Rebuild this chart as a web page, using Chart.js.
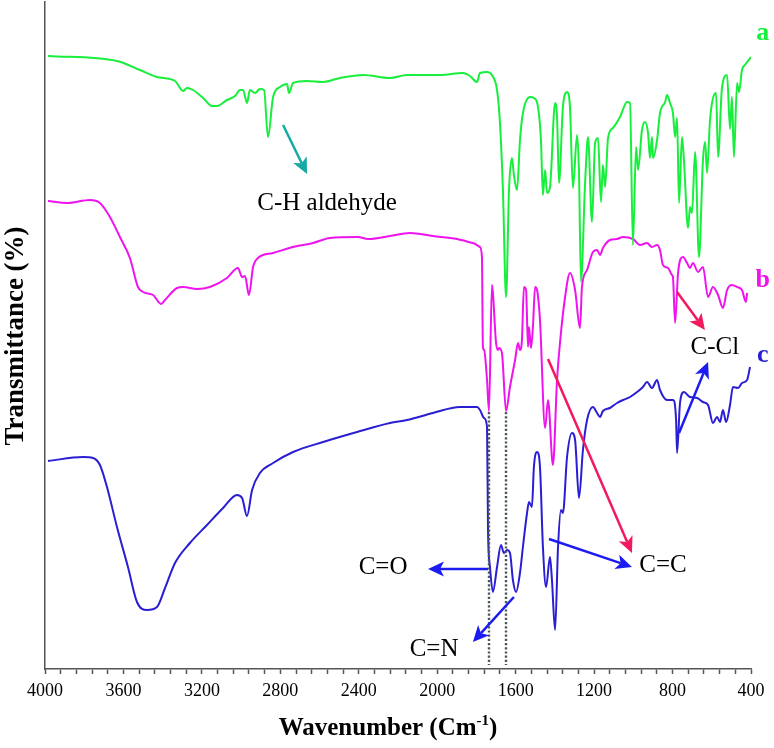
<!DOCTYPE html>
<html>
<head>
<meta charset="utf-8">
<script src="https://cdn.jsdelivr.net/npm/chart.js@4.4.1/dist/chart.umd.min.js"></script>
<style>
  html, body { margin: 0; padding: 0; background: #ffffff; }
  #wrap { width: 774px; height: 748px; }
</style>
</head>
<body>
<div id="wrap"><canvas id="irChart" width="774" height="748"></canvas></div>
<script>
// wavenumber (cm-1) / transmittance (offset, arbitrary units)
var wnA = [3985,3633,3516,3429,3337,3296,3276,3245,3194,3148,3123,3072,3031,3006,2990,2970,2955,2929,2904,2883,
           2863,2837,2802,2766,2756,2735,2664,2582,2496,2378,2241,2154,1986,1869,1833,1797,1782,1746,1721,1695,
           1680,1665,1649,1634,1619,1609,1593,1578,1563,1527,1507,1486,1471,1461,1450,1440,1425,1399,1389,1379,
           1359,1338,1323,1308,1287,1277,1267,1246,1231,1211,1195,1180,1165,1155,1144,1129,1104,1068,1032,1017,
           1002,986,976,956,941,925,915,905,900,879,864,838,828,813,798,787,777,767,752,742,
           721,711,701,685,665,645,634,624,609,578,568,548,522,507,497,487,471,461,446,431,400];
var tA  = [613,608,599,592,588,578,581,579,571,563,563,569,573,579,579,566,579,576,580,579,
           532,572,582,585,576,586,588,587,591,594,591,594,594,596,593,587,596,597,594,579,
           546,479,372,479,511,494,479,529,556,572,571,562,529,474,499,476,482,566,552,486,
           562,577,562,481,534,496,387,486,532,447,526,531,467,504,482,531,541,552,567,566,
           424,522,499,539,547,536,511,532,511,529,556,567,574,566,556,532,551,466,532,509,
           441,462,456,517,412,509,527,496,549,576,512,581,594,540,572,512,586,577,599,604,612];

var wnB = [3985,3888,3771,3720,3669,3618,3567,3526,3500,3449,3408,3388,3327,3296,3225,3159,3072,3016,2995,2980,
           2960,2939,2914,2837,2735,2633,2547,2404,2353,2241,2139,2022,1899,1818,1782,1772,1767,1761,1746,1736,
           1721,1716,1700,1690,1685,1670,1649,1629,1603,1588,1578,1568,1558,1547,1537,1532,1522,1512,1501,1491,
           1476,1450,1435,1410,1389,1374,1348,1323,1297,1272,1262,1236,1206,1185,1170,1155,1119,1083,1053,1002,
           966,930,905,879,864,849,823,803,798,787,772,747,726,711,696,670,645,619,594,568,
           543,522,497,471,446,426,420];
var tB  = [468,466,469,466,452,432,411,382,377,374,365,369,381,382,380,382,391,401,392,393,
           374,402,411,416,422,426,431,432,430,433,436,433,430,426,422,412,322,319,289,258,
           384,376,326,319,321,316,258,282,309,326,319,329,382,379,322,342,321,342,382,379,
           349,241,269,204,289,326,372,396,379,341,382,399,417,419,414,421,429,430,432,430,
           424,426,422,424,419,404,401,394,392,346,396,412,406,401,406,397,402,372,382,374,
           361,379,384,382,379,367,376];

var wnC = [3985,3806,3755,3720,3684,3633,3577,3531,3480,3429,3388,3337,3261,3174,3092,3021,2995,2970,2944,2904,
           2837,2735,2582,2409,2241,2154,2022,1884,1833,1797,1782,1761,1746,1741,1731,1716,1695,1675,1660,1644,
           1629,1614,1598,1578,1563,1542,1532,1517,1507,1491,1476,1461,1445,1425,1415,1399,1384,1369,1359,1338,
           1313,1297,1277,1257,1236,1206,1185,1170,1155,1119,1083,1053,1017,981,951,930,905,879,864,828,
           798,782,777,762,742,711,675,645,619,594,573,558,543,527,507,492,466,446,420,405];
var tC  = [208,212,211,204,182,142,102,67,59,62,81,106,126,144,161,174,171,153,179,196,
           206,217,227,237,246,249,256,262,262,262,259,251,242,139,102,77,102,124,116,119,
           116,89,77,96,122,156,167,162,202,217,202,122,82,112,89,39,122,159,156,212,
           236,229,171,219,249,262,256,252,258,261,266,269,272,277,282,287,281,289,279,269,
           269,249,216,266,277,272,271,267,264,246,252,247,259,247,264,282,281,286,289,302];

var seriesNames = ['a', 'b', 'c'];
var seriesColors = ['#18ee3c', '#ee14ee', '#2a1ed2'];

// x axis: 4000 -> 400, labels every 400, small ticks every 80
var xMin = 400, xMax = 4000, xLabelStep = 400, xTickStep = 80;

// 주석 (arrows and labels), in data coordinates
var arrowList = [
    { from: [2786, 544], to: [2664, 495], color: '#17aaa3' },
    { from: [777, 377],  to: [635, 339],  color: '#f2195f' },
    { from: [767, 236],  to: [619, 307],  color: '#1c1cf0' },
    { from: [1435, 310], to: [1007, 116], color: '#f2195f' },
    { from: [1430, 130], to: [1007, 102], color: '#1c1cf0' },
    { from: [1741, 100], to: [2047, 100], color: '#1c1cf0' },
    { from: [1609, 72],  to: [1818, 27],  color: '#1c1cf0' }
];
var noteList = [
    { text: 'C-H aldehyde', at: [2562, 466] },
    { text: 'C-Cl', at: [584, 322] },
    { text: 'C=C',  at: [849, 104] },
    { text: 'C=O',  at: [2276, 102] },
    { text: 'C=N',  at: [2016, 20] }
];
var curveTagPos = [[340, 636], [340, 389], [340, 314]];
var dottedLines = [1736, 1649];

function toPoints(xs, ys){
    var pts = [];
    for (var i = 0; i < xs.length; i++) {
        pts.push({ x: xs[i], y: ys[i] });
    }
    return pts;
}

function drawArrow(ctx, x0, y0, x1, y1, color){
    var ang = Math.atan2(y1 - y0, x1 - x0);
    var headLen = 16, headW = 7.5, notch = 4;
    var bx = x1 - Math.cos(ang) * (headLen - notch);
    var by = y1 - Math.sin(ang) * (headLen - notch);
    ctx.strokeStyle = color;
    ctx.fillStyle = color;
    ctx.lineWidth = 2.5;
    ctx.setLineDash([]);
    ctx.beginPath();
    ctx.moveTo(x0, y0);
    ctx.lineTo(bx, by);
    ctx.stroke();
    // 화살촉
    var cx = x1 - Math.cos(ang) * headLen;
    var cy = y1 - Math.sin(ang) * headLen;
    ctx.beginPath();
    ctx.moveTo(x1, y1);
    ctx.lineTo(cx + Math.cos(ang + Math.PI / 2) * headW, cy + Math.sin(ang + Math.PI / 2) * headW);
    ctx.lineTo(bx, by);
    ctx.lineTo(cx - Math.cos(ang + Math.PI / 2) * headW, cy - Math.sin(ang + Math.PI / 2) * headW);
    ctx.closePath();
    ctx.fill();
}

var annotatePlugin = {
    id: 'annotate',
    afterDatasetsDraw: function(chart){
        var ctx = chart.ctx;
        var xs = chart.scales.x, ys = chart.scales.y;
        ctx.save();

        // 점선
        ctx.strokeStyle = '#4a5858';
        ctx.lineWidth = 2.4;
        ctx.setLineDash([2.2, 2]);
        for (var i = 0; i < dottedLines.length; i++) {
            var px = Math.round(xs.getPixelForValue(dottedLines[i]));
            ctx.beginPath();
            ctx.moveTo(px, ys.getPixelForValue(257));
            ctx.lineTo(px, ys.getPixelForValue(4));
            ctx.stroke();
        }

        for (var j = 0; j < arrowList.length; j++) {
            var a = arrowList[j];
            drawArrow(ctx,
                xs.getPixelForValue(a.from[0]), ys.getPixelForValue(a.from[1]),
                xs.getPixelForValue(a.to[0]), ys.getPixelForValue(a.to[1]), a.color);
        }

        ctx.fillStyle = '#000000';
        ctx.font = '25px "Liberation Serif"';
        ctx.textAlign = 'center';
        ctx.textBaseline = 'middle';
        for (var k = 0; k < noteList.length; k++) {
            var n = noteList[k];
            ctx.fillText(n.text, xs.getPixelForValue(n.at[0]), ys.getPixelForValue(n.at[1]));
        }

        ctx.font = 'bold 26px "Liberation Serif"';
        for (var m = 0; m < seriesNames.length; m++) {
            ctx.fillStyle = seriesColors[m];
            ctx.fillText(seriesNames[m], xs.getPixelForValue(curveTagPos[m][0]), ys.getPixelForValue(curveTagPos[m][1]));
        }

        // x축 제목 (위첨자 포함)
        ctx.fillStyle = '#000000';
        ctx.textBaseline = 'alphabetic';
        ctx.textAlign = 'left';
        var big = 'bold 25px "Liberation Serif"', small = 'bold 15px "Liberation Serif"';
        var s1 = 'Wavenumber (Cm', s2 = '-1', s3 = ')';
        ctx.font = big;  var w1 = ctx.measureText(s1).width, w3 = ctx.measureText(s3).width;
        ctx.font = small; var w2 = ctx.measureText(s2).width;
        var startX = 388 - (w1 + w2 + w3) / 2;
        var baseY = 735;
        ctx.font = big;   ctx.fillText(s1, startX, baseY);
        ctx.font = small; ctx.fillText(s2, startX + w1, baseY - 10);
        ctx.font = big;   ctx.fillText(s3, startX + w1 + w2, baseY);

        // y축 제목
        ctx.translate(23, 336);
        ctx.rotate(-Math.PI / 2);
        ctx.textAlign = 'center';
        ctx.font = 'bold 27px "Liberation Serif"';
        ctx.fillText('Transmittance (%)', 0, 0);

        ctx.restore();
    }
};

var dataA = toPoints(wnA, tA);
var dataB = toPoints(wnB, tB);
var dataC = toPoints(wnC, tC);

var ctx1 = document.getElementById('irChart').getContext('2d');
var irChart = new Chart(ctx1, {
    type: 'line',
    data: {
        datasets: [
            { label: seriesNames[0], data: dataA, borderColor: seriesColors[0], borderWidth: 2, pointRadius: 0, cubicInterpolationMode: 'monotone' },
            { label: seriesNames[1], data: dataB, borderColor: seriesColors[1], borderWidth: 2, pointRadius: 0, cubicInterpolationMode: 'monotone' },
            { label: seriesNames[2], data: dataC, borderColor: seriesColors[2], borderWidth: 2, pointRadius: 0, cubicInterpolationMode: 'monotone' }
        ]
    },
    options: {
        responsive: false,
        animation: false,
        devicePixelRatio: 1,
        layout: { padding: { top: 2, right: 23, left: 0, bottom: 0 } },
        plugins: {
            legend: { display: false },
            tooltip: { enabled: false }
        },
        scales: {
            x: {
                type: 'linear',
                reverse: true,
                min: xMin,
                max: xMax,
                afterFit: function(scale){ scale.height = 79; },
                afterBuildTicks: function(scale){
                    var t = [];
                    for (var v = xMin; v <= xMax; v += xTickStep) t.push({ value: v });
                    scale.ticks = t;
                },
                ticks: {
                    autoSkip: false,
                    maxRotation: 0,
                    padding: 6,
                    color: '#000000',
                    font: { family: 'Liberation Serif', size: 18 },
                    callback: function(v){ return (v % xLabelStep === 0) ? String(v) : ''; }
                },
                grid: {
                    drawOnChartArea: false,
                    drawTicks: true,
                    tickLength: 5,
                    tickColor: '#555555',
                    tickWidth: 1.5
                },
                border: { display: true, color: '#555555', width: 1.5 }
            },
            y: {
                type: 'linear',
                min: 0,
                max: 667,
                afterFit: function(scale){ scale.width = 45; },
                ticks: { display: false },
                grid: { drawOnChartArea: false, drawTicks: false },
                border: { display: true, color: '#555555', width: 1.5 }
            }
        }
    },
    plugins: [annotatePlugin]
});
</script>
</body>
</html>
